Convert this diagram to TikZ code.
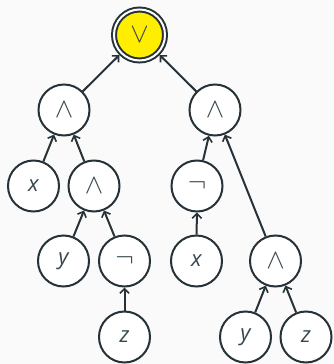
\documentclass[tikz,border=0pt]{standalone}
\usepackage{fontspec}
\setmainfont{Open Sans}
\usetikzlibrary{arrows.meta}
\definecolor{stroke}{HTML}{263238}
\definecolor{txt}{HTML}{37474F}
\definecolor{bg}{HTML}{FAFAFA}
\definecolor{rootfill}{HTML}{FFEE00}
\begin{document}
\begin{tikzpicture}[x=0.75pt,y=-0.75pt,
  tnode/.style={circle,draw=stroke,line width=1.5pt,fill=white,minimum size=38.25pt,inner sep=0pt,text=txt},
  rootnode/.style={tnode,fill=rootfill,double=white,double distance=1.5pt,outer sep=2.25pt},
  sym/.style={font=\fontsize{20}{20}\selectfont},
  var/.style={font=\itshape\fontsize{16.5}{16.5}\selectfont},
  edge/.style={draw=stroke,line width=1.5pt,-{Straight Barb[length=3.5pt,width=7pt,line width=1.2pt]}}]
\fill[bg] (0,0) rectangle (334,364);
\useasboundingbox (0,0) rectangle (334,364);
\node[rootnode,sym] (root) at (139.5,35) {$\vee$};
\node[tnode,sym] (a1) at (64,110) {$\wedge$};
\node[tnode,sym] (a2) at (215,110) {$\wedge$};
\node[tnode,var] (x1) at (33.5,186) {x};
\node[tnode,sym] (a3) at (94,186) {$\wedge$};
\node[tnode,sym] (n1) at (197,186) {$\neg$};
\node[tnode,var] (y1) at (63.5,261) {y};
\node[tnode,sym] (n2) at (124.5,261) {$\neg$};
\node[tnode,var] (x2) at (196.5,261) {x};
\node[tnode,sym] (a4) at (275.5,261) {$\wedge$};
\node[tnode,var] (z1) at (124.5,337) {z};
\node[tnode,var] (y2) at (245.5,337) {y};
\node[tnode,var] (z2) at (306,337) {z};
\draw[edge] (a1) -- (root);
\draw[edge] (a2) -- (root);
\draw[edge] (x1) -- (a1);
\draw[edge] (a3) -- (a1);
\draw[edge] (n1) -- (a2);
\draw[edge] (a4) -- (a2);
\draw[edge] (y1) -- (a3);
\draw[edge] (n2) -- (a3);
\draw[edge] (z1) -- (n2);
\draw[edge] (x2) -- (n1);
\draw[edge] (y2) -- (a4);
\draw[edge] (z2) -- (a4);
\end{tikzpicture}
\end{document}
